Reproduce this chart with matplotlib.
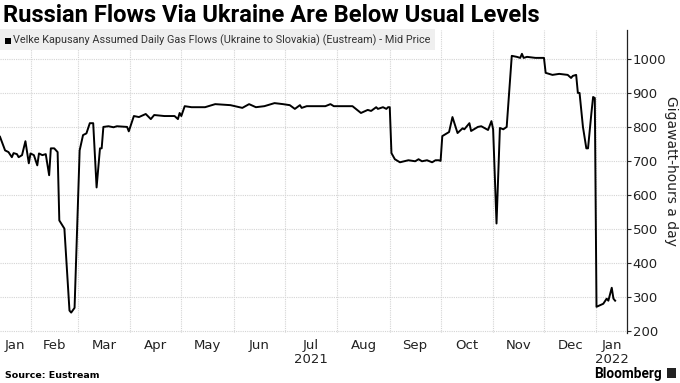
import numpy as np
import pandas as pd
import matplotlib
matplotlib.use('Agg')
import matplotlib.pyplot as plt
import matplotlib.dates as mdates
from matplotlib.patches import Rectangle

# Velke Kapusany daily flows, GWh/day
dates = [
    '2021-01-14', '2021-01-17', '2021-01-19', '2021-01-21', '2021-01-22', '2021-01-24',
    '2021-01-25', '2021-01-27', '2021-01-29', '2021-01-31',
    '2021-02-01', '2021-02-03', '2021-02-05', '2021-02-06', '2021-02-08', '2021-02-10',
    '2021-02-12', '2021-02-13', '2021-02-15', '2021-02-17', '2021-02-18', '2021-02-21',
    '2021-02-24', '2021-02-25', '2021-02-27',
    '2021-03-02', '2021-03-04', '2021-03-06', '2021-03-08', '2021-03-10', '2021-03-12',
    '2021-03-14', '2021-03-15', '2021-03-16', '2021-03-19', '2021-03-22', '2021-03-24',
    '2021-03-30', '2021-03-31',
    '2021-04-03', '2021-04-06', '2021-04-10', '2021-04-13', '2021-04-15', '2021-04-21',
    '2021-04-27', '2021-04-29', '2021-04-30',
    '2021-05-01', '2021-05-03', '2021-05-07', '2021-05-15', '2021-05-21', '2021-05-30',
    '2021-06-06', '2021-06-10', '2021-06-14', '2021-06-19', '2021-06-25', '2021-06-30',
    '2021-07-04', '2021-07-07', '2021-07-10', '2021-07-11', '2021-07-14', '2021-07-18',
    '2021-07-25', '2021-07-28', '2021-07-30',
    '2021-08-10', '2021-08-15', '2021-08-19', '2021-08-21', '2021-08-24', '2021-08-25',
    '2021-08-28', '2021-08-30', '2021-08-31',
    '2021-09-01', '2021-09-02', '2021-09-04', '2021-09-07', '2021-09-12', '2021-09-16',
    '2021-09-18', '2021-09-20', '2021-09-23', '2021-09-26', '2021-09-28', '2021-09-30',
    '2021-10-01', '2021-10-02', '2021-10-06', '2021-10-08', '2021-10-11', '2021-10-14',
    '2021-10-15', '2021-10-18', '2021-10-19', '2021-10-23', '2021-10-25', '2021-10-29',
    '2021-10-31',
    '2021-11-01', '2021-11-03', '2021-11-05', '2021-11-07', '2021-11-09', '2021-11-12',
    '2021-11-15', '2021-11-17', '2021-11-18', '2021-11-19', '2021-11-21', '2021-11-26',
    '2021-11-30',
    '2021-12-01', '2021-12-02', '2021-12-04', '2021-12-06', '2021-12-10', '2021-12-15',
    '2021-12-17', '2021-12-18', '2021-12-20', '2021-12-21', '2021-12-22', '2021-12-24',
    '2021-12-26', '2021-12-27', '2021-12-29', '2021-12-30', '2021-12-31',
    '2022-01-01', '2022-01-05', '2022-01-07', '2022-01-08', '2022-01-10', '2022-01-11',
    '2022-01-12',
]
flows = [
    771, 731, 726, 711, 723, 720,
    711, 717, 758, 693,
    722, 717, 687, 722, 717, 720,
    658, 737, 737, 726, 525, 501,
    260, 254, 268,
    731, 776, 781, 811, 811, 622,
    737, 737, 800, 802, 799, 802,
    800, 787,
    832, 829, 838, 823, 835, 832,
    832, 823, 841,
    832, 861, 858, 858, 867, 864,
    856, 867, 858, 861, 870, 867,
    864, 853, 864, 856, 861, 861,
    861, 867, 861,
    861, 841, 850, 847, 858, 853,
    858, 853, 858,
    858, 723, 705, 696, 702, 699,
    705, 699, 702, 696, 702, 702,
    700, 773, 785, 829, 782, 796,
    793, 811, 788, 800, 802, 791,
    817,
    793, 516, 797, 793, 800, 1009,
    1006, 1003, 1015, 1003, 1006, 1003,
    1003,
    1003, 959, 956, 953, 956, 953,
    944, 950, 953, 900, 900, 800,
    737, 737, 841, 888, 885,
    271, 280, 295, 289, 327, 295,
    289,
]

month_abbr = ['Jan', 'Feb', 'Mar', 'Apr', 'May', 'Jun', 'Jul',
              'Aug', 'Sep', 'Oct', 'Nov', 'Dec', 'Jan']
year_under = {6: '2021', 12: '2022'}
y_ticks = [200, 300, 400, 500, 600, 700, 800, 900, 1000]

x = pd.to_datetime(dates)
x_start = pd.Timestamp('2021-01-14')
x_end = pd.Timestamp('2022-01-19')

W, H = 680, 383
fig = plt.figure(figsize=(W / 100, H / 100), dpi=100)
ax = fig.add_axes([0, 1 - 333 / H, 627 / W, (333 - 30) / H])
renderer = fig.canvas.get_renderer()


def fit_width(t, px):
    # shrink/grow a text so it spans roughly px pixels
    w = t.get_window_extent(renderer).width
    t.set_fontsize(t.get_fontsize() * px / w)


grid_col = '#d4d4d4'
txt_col = '#222222'
ax.plot(x, flows, color='black', lw=1.4, zorder=3)
ax.set_xlim(x_start, x_end)
ax.set_ylim(194, 1085)

# month boundaries -> dotted grid, labels centred in the visible part of each month
starts = pd.date_range('2021-01-01', '2022-02-01', freq='MS')
ax.set_xticks(starts[1:-1], minor=True)
centers, labels = [], []
for i in range(len(starts) - 1):
    a = max(starts[i], x_start)
    b = min(starts[i + 1], x_end)
    centers.append(a + (b - a) / 2)
    lab = month_abbr[i]
    if i in year_under:
        lab += '\n' + year_under[i]
    labels.append(lab)
ax.set_xticks(centers)
ax.set_xticklabels(labels, fontsize=9.5, color=txt_col, linespacing=1.15)
ax.tick_params(axis='x', which='both', length=0, pad=4)
ax.grid(True, axis='x', which='minor', color=grid_col, ls=(0, (1, 1)), lw=0.8)

ax.yaxis.tick_right()
ax.set_yticks(y_ticks)
ax.set_yticklabels([str(v) for v in y_ticks], fontsize=9.5, color=txt_col)
ax.tick_params(axis='y', direction='out', length=3, width=0.8, pad=1, colors=txt_col)
ax.grid(True, axis='y', color=grid_col, ls=(0, (1, 1)), lw=0.8)
ax.yaxis.set_label_position('right')
ylab = ax.set_ylabel('Gigawatt-hours a day', rotation=270, fontsize=10,
                     color=txt_col, va='center', ha='center')
ax.yaxis.set_label_coords(671 / 627, (333 - 171) / 303)

for s in ['left', 'top', 'bottom']:
    ax.spines[s].set_visible(False)
ax.spines['right'].set_color(txt_col)
ax.spines['right'].set_linewidth(0.9)

# title
title = fig.text(3 / W, 1 - 15 / H, 'Russian Flows Via Ukraine Are Below Usual Levels',
                 fontsize=16, fontweight='bold', family='Roboto',
                 va='center', ha='left', color='black')
fit_width(title, 540)

# legend strip
fig.patches.append(Rectangle((0, 1 - 50 / H), 435 / W, 21 / H,
                             transform=fig.transFigure, facecolor='#efefef',
                             edgecolor='none', zorder=5))
fig.patches.append(Rectangle((5 / W, 1 - 44 / H), 6 / W, 6 / H,
                             transform=fig.transFigure, facecolor='black',
                             edgecolor='none', zorder=6))
leg = fig.text(13 / W, 1 - 40.5 / H,
               'Velke Kapusany Assumed Daily Gas Flows (Ukraine to Slovakia) (Eustream) - Mid Price',
               fontsize=8, family='Roboto',
               va='center', ha='left', color='#333333', zorder=7)
fit_width(leg, 417)

# footer
src = fig.text(5 / W, 1 - 376 / H, 'Source: Eustream', fontsize=7.5, fontweight='bold',
               va='center', ha='left', color='black')
fit_width(src, 95)
bb = fig.text(662 / W, 1 - 374 / H, 'Bloomberg', fontsize=10.5, fontweight='bold',
              family='Roboto', va='center', ha='right', color='black')
fit_width(bb, 67)
fig.patches.append(Rectangle((667 / W, 1 - 378 / H), 9 / W, 10 / H,
                             transform=fig.transFigure, facecolor='#222222',
                             edgecolor='none'))

fig.savefig('out.png', dpi=100)
